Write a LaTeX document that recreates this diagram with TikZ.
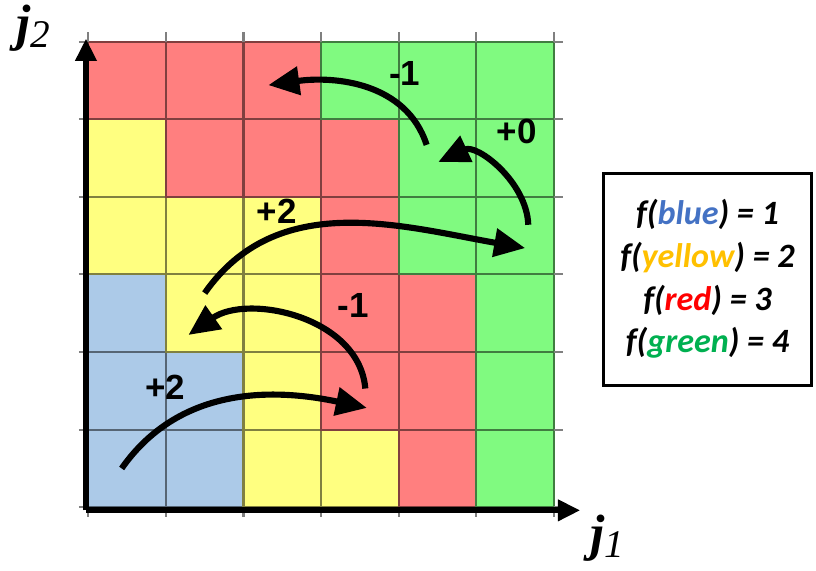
\documentclass[tikz,border=0pt]{standalone}
\usepackage{fontspec}
\usepackage{xcolor}
\usepackage{tikz}
\usetikzlibrary{arrows.meta, positioning}

\newfontfamily\legfont{Carlito}
\newfontfamily\numfont{Liberation Sans}
\newfontfamily\jfont{Liberation Serif}

\definecolor{cR}{HTML}{FF7F7F}
\definecolor{cG}{HTML}{80FA80}
\definecolor{cY}{HTML}{FFFF80}
\definecolor{cB}{HTML}{ACCAE8}
\definecolor{tBlue}{HTML}{4472C4}
\definecolor{tYellow}{HTML}{FFC000}
\definecolor{tRed}{HTML}{FF0000}
\definecolor{tGreen}{HTML}{00B050}

\begin{document}
\begin{tikzpicture}[
    x=1.6cm, y=1.6cm,
    tick/.style={gray, line width=1.2pt},
    axis/.style={-{Triangle[length=0.46cm, width=0.42cm]}, line width=3.6pt},
    move/.style={-{Triangle[length=0.64cm, width=0.57cm]}, line width=3.6pt},
    gain/.style={font=\numfont\bfseries\fontsize{20.5}{24}\selectfont},
    legend/.style={draw, line width=1.8pt, minimum width=4.3cm, minimum height=4.37cm, align=center, font=\legfont\bfseries\itshape\fontsize{20}{25}\selectfont}
]
\useasboundingbox (-1.138,-0.821) rectangle (9.378,6.537);

% Cells (row by row, bottom first)
\foreach \r/\cols in {0/{cB,cB,cY,cY,cR,cG},
                      1/{cB,cB,cY,cR,cR,cG},
                      2/{cB,cY,cY,cR,cR,cG},
                      3/{cY,cY,cY,cR,cG,cG},
                      4/{cY,cR,cR,cR,cG,cG},
                      5/{cR,cR,cR,cG,cG,cG}}{
  \foreach \c [count=\i from 0] in \cols {
    \draw[fill=\c, draw=\c!50!black, line width=1.2pt] (\i,\r) rectangle ++(1,1);
  }
}

% Ticks
\foreach \k in {0,...,6}{
  \draw[tick] (\k,-0.12) -- (\k,0);
  \draw[tick] (\k,6) -- (\k,6.12);
  \draw[tick] (-0.12,\k) -- (0,\k);
  \draw[tick] (6,\k) -- (6.12,\k);
}

% Axes
\coordinate (o) at (-0.03,-0.04);
\coordinate (xend) at (6.34,-0.04);
\coordinate (yend) at (-0.03,6.04);
\draw[axis] (o) -- (xend);
\draw[axis] (o) -- (yend);
\node[font=\jfont\fontsize{30}{31}\selectfont] (j1) at (6.69,-0.4) {\textbf{\textit{j}}\raisebox{-0.3ex}{\fontsize{23}{24}\selectfont\textit{1}}};
\node[font=\jfont\fontsize{30}{31}\selectfont] (j2) at (-0.71,6.17) {\textbf{\textit{j}}\raisebox{-0.3ex}{\fontsize{23}{24}\selectfont\textit{2}}};

% Moves
\coordinate (m1s) at (0.43,0.50);  \coordinate (m1e) at (3.59,1.28);
\coordinate (m2s) at (3.57,1.53);  \coordinate (m2e) at (1.29,2.22);
\coordinate (m3s) at (1.50,2.76);  \coordinate (m3e) at (5.63,3.34);
\coordinate (m4s) at (5.67,3.64);  \coordinate (m4e) at (4.51,4.45);
\coordinate (m5s) at (4.36,4.67);  \coordinate (m5e) at (2.32,5.44);

\draw[move] (m1s) to[out=55, in=168] (m1e);
\draw[move] (m2s) to[out=95, in=35] (m2e);
\draw[move] (m3s) to[out=55, in=170] (m3e);
\draw[move] (m4s) to[out=92, in=25] (m4e);
\draw[move] (m5s) to[out=108, in=8] (m5e);

\node[gain] (g1) at (0.99,1.55) {+2};
\node[gain] (g2) at (3.41,2.60) {-1};
\node[gain] (g3) at (2.43,3.81) {+2};
\node[gain] (g4) at (5.52,4.84) {+0};
\node[gain] (g5) at (4.08,5.59) {-1};

% Legend
\node[legend] (leg) at (7.98,2.94) {%
  f(\textcolor{tBlue}{blue}) = 1\\
  f(\textcolor{tYellow}{yellow}) = 2\\
  f(\textcolor{tRed}{red}) = 3\\
  f(\textcolor{tGreen}{green}) = 4};

\end{tikzpicture}
\end{document}
